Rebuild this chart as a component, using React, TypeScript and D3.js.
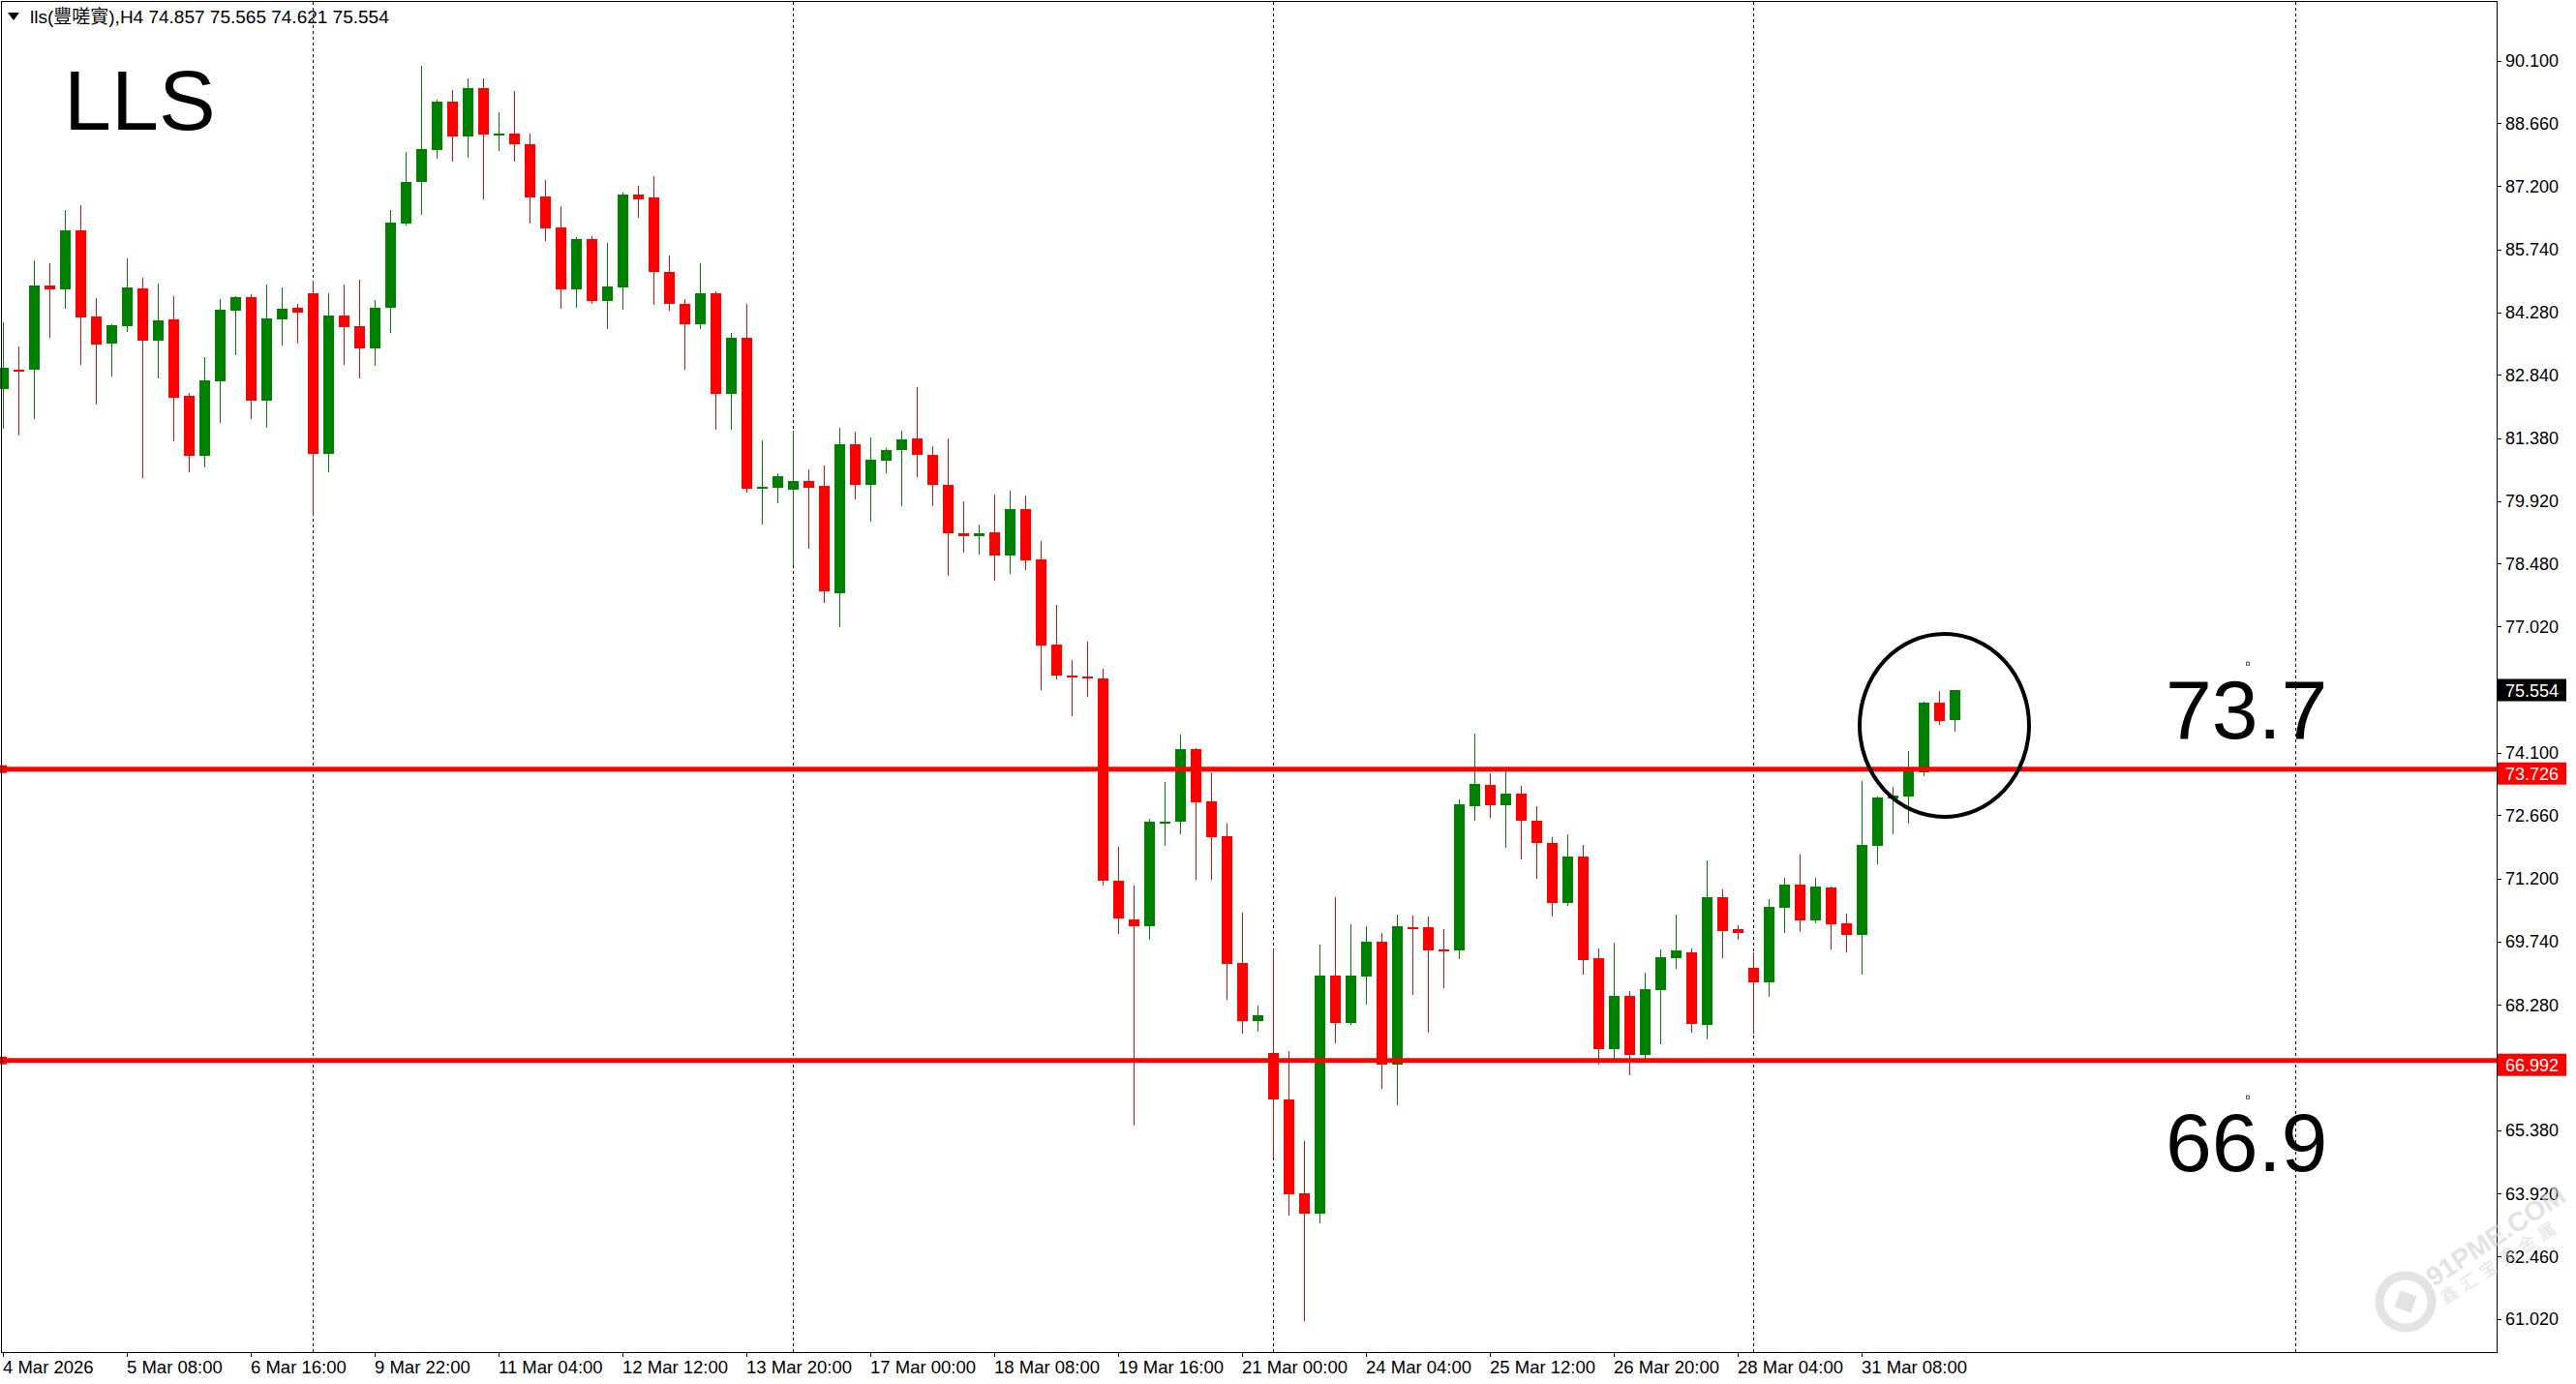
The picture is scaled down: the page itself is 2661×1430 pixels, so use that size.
import React from 'react';
import * as d3 from 'd3';

// ---- data (H4 candles) ----
const opens = [
  82.52, 82.97, 82.97, 84.90, 84.81, 86.17, 84.19, 83.57, 83.97, 84.84,
  83.64, 84.12, 82.35, 80.97, 82.70, 84.33, 84.64, 82.25, 84.13, 84.39,
  84.73, 81.02, 84.21, 83.97, 83.46, 84.38, 86.34, 87.30, 88.04, 89.16,
  88.36, 89.47, 88.40, 88.42, 88.18, 86.97, 86.24, 84.82, 85.98, 84.55,
  84.87, 87.01, 86.94, 85.22, 84.48, 84.00, 84.73, 82.39, 83.69, 80.22,
  80.23, 80.18, 80.38, 80.28, 77.80, 81.24, 80.29, 80.86, 81.11, 81.37,
  80.99, 80.30, 79.18, 79.12, 79.20, 78.67, 79.74, 78.58, 76.60, 75.90,
  75.87, 75.83, 71.15, 70.26, 70.10, 72.51, 72.51, 74.19, 72.98, 72.17,
  69.24, 67.91, 67.16, 66.09, 63.92, 63.46, 68.95, 67.86, 68.94, 69.74,
  66.90, 70.08, 70.07, 69.56, 69.53, 72.86, 73.36, 72.90, 73.16, 72.53,
  72.02, 70.63, 71.71, 69.36, 67.26, 68.49, 67.12, 68.63, 69.36, 69.49,
  67.82, 70.77, 70.02, 69.14, 68.79, 70.53, 71.06, 70.22, 70.99, 70.16,
  69.90, 71.96, 73.05, 73.09, 73.66, 75.26, 74.857,
];
const highs = [
  84.05, 83.50, 85.49, 85.43, 86.64, 86.77, 84.62, 84.01, 85.54, 85.09,
  84.96, 84.67, 82.43, 83.25, 84.59, 84.66, 84.70, 84.93, 84.85, 84.48,
  85.02, 84.73, 84.93, 85.05, 84.57, 86.66, 87.99, 89.99, 89.21, 89.43,
  89.69, 89.69, 88.91, 89.40, 88.42, 87.35, 86.75, 86.03, 86.04, 85.90,
  87.05, 87.21, 87.43, 85.60, 84.60, 85.42, 84.76, 83.80, 84.47, 81.33,
  80.57, 81.56, 80.66, 80.74, 81.62, 81.53, 81.39, 81.15, 81.56, 82.55,
  81.20, 81.37, 79.91, 79.37, 80.08, 80.17, 80.04, 79.00, 77.52, 76.25,
  76.67, 76.04, 71.94, 71.04, 72.58, 73.42, 74.52, 74.22, 73.65, 72.46,
  70.41, 68.26, 69.56, 67.21, 65.13, 69.68, 70.77, 70.13, 70.09, 69.93,
  70.37, 70.34, 70.31, 70.02, 73.03, 74.54, 73.64, 73.76, 73.33, 72.87,
  72.15, 72.21, 71.98, 69.58, 69.72, 68.60, 69.02, 69.56, 70.37, 69.58,
  71.61, 70.95, 70.12, 69.49, 70.73, 71.22, 71.74, 71.22, 71.01, 70.39,
  73.46, 73.10, 73.31, 74.15, 75.29, 75.53, 75.565,
];
const lows = [
  81.61, 81.47, 81.85, 83.73, 84.38, 83.10, 82.18, 82.83, 83.86, 80.48,
  82.78, 81.33, 80.62, 80.73, 81.74, 83.32, 81.85, 81.65, 83.53, 83.59,
  79.61, 80.62, 83.10, 82.78, 83.08, 83.84, 86.32, 86.56, 87.86, 87.79,
  87.89, 86.92, 88.04, 87.79, 86.36, 85.96, 84.38, 84.42, 84.51, 83.93,
  84.36, 86.50, 84.47, 84.34, 82.99, 83.91, 81.60, 81.60, 80.15, 79.40,
  79.89, 78.46, 78.84, 77.60, 77.03, 79.99, 79.48, 80.58, 79.83, 80.50,
  79.83, 78.22, 78.75, 78.70, 78.10, 78.25, 78.36, 75.57, 75.83, 74.98,
  75.43, 71.06, 69.95, 65.50, 69.80, 71.98, 72.25, 71.19, 71.19, 68.42,
  67.64, 67.69, 64.77, 63.42, 60.98, 63.26, 67.41, 67.84, 68.30, 66.35,
  65.98, 68.53, 67.66, 68.69, 69.36, 72.56, 72.63, 71.94, 71.66, 71.21,
  70.34, 70.59, 69.00, 66.91, 67.05, 66.67, 67.03, 67.38, 69.13, 67.66,
  67.49, 69.38, 69.81, 67.64, 68.49, 69.97, 69.99, 70.18, 69.58, 69.51,
  69.00, 71.54, 72.24, 72.49, 73.59, 74.78, 74.621,
];
const closes = [
  83.00, 82.94, 84.90, 84.81, 86.17, 84.17, 83.55, 83.99, 84.86, 83.64,
  84.10, 82.32, 80.97, 82.71, 84.35, 84.64, 82.25, 84.14, 84.37, 84.29,
  81.02, 84.21, 83.95, 83.46, 84.39, 86.36, 87.30, 88.06, 89.16, 88.36,
  89.47, 88.40, 88.42, 88.18, 86.95, 86.23, 84.82, 85.98, 84.55, 84.89,
  87.01, 86.90, 85.21, 84.47, 84.00, 84.73, 82.39, 83.69, 80.20, 80.25,
  80.50, 80.38, 80.23, 77.84, 81.24, 80.29, 80.88, 81.10, 81.35, 80.98,
  80.29, 79.17, 79.12, 79.18, 78.67, 79.74, 78.55, 76.59, 75.90, 75.86,
  75.82, 71.14, 70.27, 70.09, 72.51, 72.52, 74.19, 72.97, 72.16, 69.22,
  67.91, 68.03, 66.09, 63.90, 63.46, 68.95, 67.86, 68.95, 69.74, 66.90,
  70.09, 70.05, 69.54, 69.53, 72.91, 73.39, 72.90, 73.16, 72.54, 72.01,
  70.63, 71.71, 69.32, 67.26, 68.49, 67.12, 68.64, 69.38, 69.53, 67.84,
  70.77, 69.99, 69.95, 68.79, 70.54, 71.06, 70.22, 71.01, 70.14, 69.90,
  71.98, 73.07, 73.11, 73.68, 75.27, 74.84, 75.554,
];

const xLabels = [
  '4 Mar 2026', '5 Mar 08:00', '6 Mar 16:00', '9 Mar 22:00', '11 Mar 04:00',
  '12 Mar 12:00', '13 Mar 20:00', '17 Mar 00:00', '18 Mar 08:00', '19 Mar 16:00',
  '21 Mar 00:00', '24 Mar 04:00', '25 Mar 12:00', '26 Mar 20:00', '28 Mar 04:00',
  '31 Mar 08:00',
];
const barsPerLabel = 8;
const yTicks = [
  90.1, 88.66, 87.2, 85.74, 84.28, 82.84, 81.38, 79.92, 78.48, 77.02,
  74.1, 72.66, 71.2, 69.74, 68.28, 65.38, 63.92, 62.46, 61.02,
];
const gridBars = [20, 51, 82, 113, 148];
const levels = [73.726, 66.992];
const levelNotes = ['73.7', '66.9'];
const lastPrice = 75.554;
const symbolTitle = 'LLS';
const headerText = 'lls(豐嗟賨),H4  74.857 75.565 74.621 75.554';

// ---- layout ----
const W = 2661;
const H = 1430;
const PLOT_R = 2579;
const PLOT_B = 1397;
const FONT = '"Liberation Sans", Arial, "Noto Sans CJK TC", sans-serif';
const GREEN = '#008000';
const RED = '#ff0000';

export default function App() {
  const x = d3.scaleLinear().domain([0, 161]).range([3, 3 + 16 * 161]);
  const y = d3.scaleLinear().domain([60.252, 91.505]).range([PLOT_B, 0]);
  const yr = (v: number) => Math.round(y(v));

  const candles = opens.map((o, i) => {
    const c = closes[i];
    const h = highs[i];
    const l = lows[i];
    const cx = Math.round(x(i));
    const col = c >= o ? GREEN : RED;
    const top = yr(Math.max(o, c));
    let bot = yr(Math.min(o, c));
    if (bot - top < 2) bot = top + 2;
    return (
      <g key={i}>
        <rect x={cx} y={yr(h)} width={1} height={yr(l) - yr(h) + 1} fill={col} />
        <rect x={cx - 5} y={top} width={11} height={bot - top} fill={col} />
      </g>
    );
  });

  return (
    <svg
      width={W}
      height={H}
      viewBox={`0 0 ${W} ${H}`}
      style={{ position: 'absolute', left: 0, top: 0, display: 'block', background: '#fff' }}
      fontFamily={FONT}
    >
      <rect x={0} y={0} width={W} height={H} fill="#fff" />

      {/* vertical dashed grid */}
      {gridBars.map((b) => (
        <line
          key={b}
          x1={Math.round(x(b)) + 0.5}
          x2={Math.round(x(b)) + 0.5}
          y1={2}
          y2={PLOT_B}
          stroke="#000"
          strokeWidth={1}
          strokeDasharray="3,3"
          shapeRendering="crispEdges"
        />
      ))}

      {/* candles */}
      <g shapeRendering="crispEdges">{candles}</g>

      {/* horizontal levels */}
      {levels.map((lv, k) => (
        <g key={lv}>
          <line x1={0} x2={PLOT_R + 3} y1={y(lv)} y2={y(lv)} stroke={RED} strokeWidth={5} />
          <rect x={0} y={y(lv) - 4} width={7} height={8} fill={RED} />
          <rect x={2580} y={y(lv) - 7} width={71} height={23} fill={RED} />
          <text x={2588} y={y(lv) + 11} fontSize={18} fill="#fff">
            {lv.toFixed(3)}
          </text>
          <rect
            x={2320.5}
            y={y(lv) - (k === 0 ? 110.5 : -36.5)}
            width={3}
            height={3}
            fill="none"
            stroke="#555"
            strokeWidth={1}
          />
          <text
            x={2237}
            y={k === 0 ? 763 : 1210}
            fontSize={86}
            fill="#000"
            fontFamily='"Liberation Sans", Arial, sans-serif'
          >
            {levelNotes[k]}
          </text>
        </g>
      ))}

      {/* circle highlight */}
      <ellipse cx={2008.5} cy={749.5} rx={87.5} ry={94.5} fill="none" stroke="#000" strokeWidth={4} />

      {/* frame */}
      <rect
        x={1.5}
        y={1.5}
        width={PLOT_R - 1.5}
        height={PLOT_B - 1.5}
        fill="none"
        stroke="#000"
        strokeWidth={1}
        shapeRendering="crispEdges"
      />

      {/* y axis */}
      {yTicks.map((v) => (
        <g key={v}>
          <line x1={PLOT_R} x2={PLOT_R + 5} y1={yr(v) + 0.5} y2={yr(v) + 0.5} stroke="#000" shapeRendering="crispEdges" />
          <text x={2588} y={y(v) + 6.5} fontSize={18} fill="#000">
            {v.toFixed(3)}
          </text>
        </g>
      ))}
      <rect x={2580} y={y(lastPrice) - 11.5} width={71} height={23} fill="#000" />
      <text x={2588} y={y(lastPrice) + 6.5} fontSize={18} fill="#fff">
        {lastPrice.toFixed(3)}
      </text>

      {/* x axis */}
      {xLabels.map((lab, k) => {
        const px = Math.round(x(k * barsPerLabel));
        return (
          <g key={lab}>
            <line x1={px + 0.5} x2={px + 0.5} y1={PLOT_B} y2={PLOT_B + 5} stroke="#000" shapeRendering="crispEdges" />
            <text x={px} y={1419} fontSize={18.5} fill="#000">
              {lab}
            </text>
          </g>
        );
      })}

      {/* header */}
      <polygon points="8,13 20,13 14,21" fill="#000" />
      <text x={31} y={24} fontSize={19} fill="#000">
        {headerText}
      </text>
      <text x={66} y={134} fontSize={88} fill="#000" fontFamily='"Liberation Sans", Arial, sans-serif'>
        {symbolTitle}
      </text>

      {/* watermark */}
      <g opacity={0.6} fill="#d2d2d2" stroke="none">
        <circle cx={2485} cy={1345} r={27} fill="none" stroke="#d2d2d2" strokeWidth={9} />
        <rect x={2476} y={1336} width={18} height={18} transform="rotate(20 2485 1345)" />
        <text x={2514} y={1330} fontSize={28} fontWeight="bold" transform="rotate(-33 2514 1330)">
          91PME.COM
        </text>
        <text x={2526} y={1348} fontSize={18} transform="rotate(-33 2526 1348)" letterSpacing={6}>
          鑫汇宝贵金属
        </text>
      </g>
    </svg>
  );
}
